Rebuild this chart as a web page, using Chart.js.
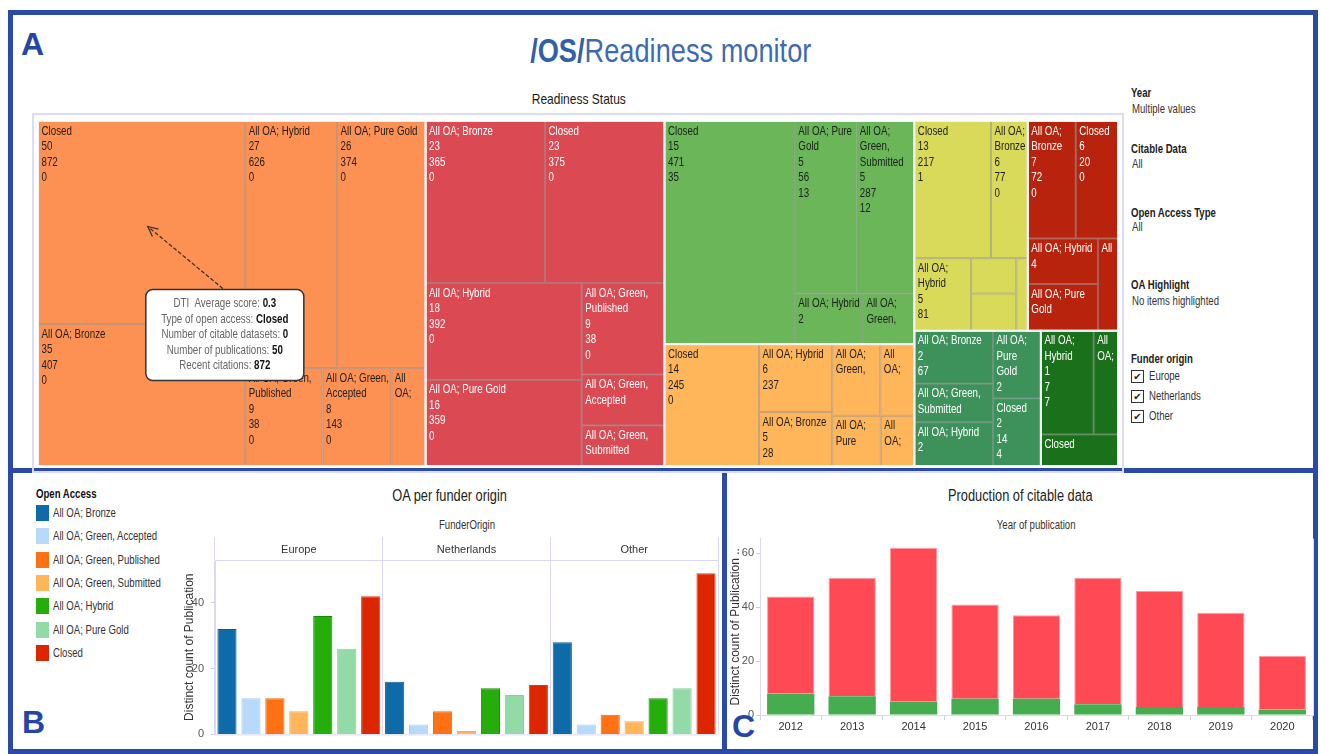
<!DOCTYPE html>
<html>
<head>
<meta charset="utf-8">
<script src="https://cdn.jsdelivr.net/npm/chart.js@4.4.1/dist/chart.umd.min.js"></script>
<style>
  body { margin: 0; width: 1322px; height: 754px; position: relative; overflow: hidden; background: #fff;
         font-family: 'Liberation Sans', Arial, sans-serif; color: #222; }
  .panel { position: absolute; border: 5px solid #2a4aa8; box-sizing: border-box; }
  .letter { position: absolute; font-weight: bold; font-size: 32px; color: #2546a8; }
  .txt { position: absolute; white-space: nowrap; }
  .center { text-align: center; }
  .sq { display: inline-block; transform: scaleX(0.8); transform-origin: 0 50%; white-space: nowrap; }
  .center .sq { transform-origin: 50% 50%; }
  canvas { position: absolute; }
  .flt-h { position: absolute; left: 1131px; font-weight: bold; font-size: 12px; color: #222; }
  .flt-v { position: absolute; left: 1132px; font-size: 12px; color: #333; }
  .chk { position: absolute; left: 1131px; width: 11px; height: 11px; border: 1.5px solid #333; font-size: 10px; line-height: 11px; text-align: center; font-family: 'DejaVu Sans', sans-serif; }
  .legend-item { position: absolute; left: 36px; font-size: 12px; color: #333; }
  .swatch { position: absolute; left: 0; top: 0; width: 13px; height: 16px; }
</style>
</head>
<body>

<div class="panel" style="left:8px; top:10px; width:1310px; height:463px;"></div>
<div class="panel" style="left:8px; top:468px; width:719px; height:286px;"></div>
<div class="panel" style="left:722px; top:468px; width:596px; height:286px;"></div>

<div class="letter" style="left:21px; top:26px;">A</div>
<div class="letter" style="left:22px; top:704px;">B</div>
<div class="letter" style="left:732px; top:708px;">C</div>

<div class="txt center" style="left:421px; width:500px; top:33px; font-size:34px; line-height:34px; color:#3d6bb3;"><span class="sq"><b style="color:#3260a8;">/OS/</b>Readiness monitor</span></div>
<div class="txt center" style="left:479px; width:200px; top:90px; font-size:15px; color:#1a1a1a;"><span class="sq">Readiness Status</span></div>
<div style="position:absolute; left:32px; top:113px; width:1092px; height:360px; border:2px solid #dcdcf6; box-sizing:border-box;"></div>
<canvas id="treemap" width="1080" height="345" style="left:38px; top:121px;"></canvas>

<div class="flt-h" style="top:86px;"><span class="sq">Year</span></div>
<div class="flt-v" style="top:102px;"><span class="sq">Multiple values</span></div>
<div class="flt-h" style="top:142px;"><span class="sq">Citable Data</span></div>
<div class="flt-v" style="top:157px;"><span class="sq">All</span></div>
<div class="flt-h" style="top:206px;"><span class="sq">Open Access Type</span></div>
<div class="flt-v" style="top:220px;"><span class="sq">All</span></div>
<div class="flt-h" style="top:278px;"><span class="sq">OA Highlight</span></div>
<div class="flt-v" style="top:294px;"><span class="sq">No items highlighted</span></div>
<div class="flt-h" style="top:352px;"><span class="sq">Funder origin</span></div>
<div id="funderFilter"></div>

<div class="txt" style="left:36px; top:487px; font-size:12px; font-weight:bold; color:#111;"><span class="sq">Open Access</span></div>
<div id="oaLegend"></div>
<div class="txt center" style="left:300px; width:300px; top:487px; font-size:16px; color:#222;"><span class="sq">OA per funder origin</span></div>
<div class="txt center" style="left:367px; width:200px; top:518px; font-size:12px; color:#333;"><span class="sq">FunderOrigin</span></div>
<canvas id="funderChart" width="542" height="218" style="left:178px; top:530px;"></canvas>

<div class="txt center" style="left:870px; width:300px; top:487px; font-size:16px; color:#222;"><span class="sq">Production of citable data</span></div>
<div class="txt center" style="left:936px; width:200px; top:518px; font-size:12px; color:#333;"><span class="sq">Year of publication</span></div>
<canvas id="citableChart" width="590" height="218" style="left:727px; top:530px;"></canvas>

<script>
const FONT = "'Liberation Sans', Arial, sans-serif";
const SQUASH = 0.75; // the dashboard text is set in a narrow face
Chart.defaults.font.family = FONT;
Chart.defaults.color = '#333';

// ---- Panel A: readiness treemap ----
// one entry per cell: readiness group, type of open access, publications, recent citations, citable datasets
const cellStatus = [0, 0, 0, 0, 0, 0, 0,
                    1, 1, 1, 1, 1, 1, 1,
                    2, 2, 2, 2, 2,
                    3, 3, 3, 3, 3, 3, 3,
                    4, 4, 4, 4, 4, 4,
                    5, 5, 5, 5, 5,
                    6, 6, 6, 6, 6,
                    7, 7, 7];
const cellType = [
  'Closed', 'All OA; Bronze', 'All OA; Hybrid', 'All OA; Pure Gold', 'All OA; Green, Published', 'All OA; Green, Accepted', 'All OA; Green, Submitted',
  'All OA; Bronze', 'Closed', 'All OA; Hybrid', 'All OA; Pure Gold', 'All OA; Green, Published', 'All OA; Green, Accepted', 'All OA; Green, Submitted',
  'Closed', 'All OA; Pure Gold', 'All OA; Green, Submitted', 'All OA; Hybrid', 'All OA; Green, Published',
  'Closed', 'All OA; Hybrid', 'All OA; Bronze', 'All OA; Green, Submitted', 'All OA; Green, Accepted', 'All OA; Pure Gold', 'All OA; Green, Published',
  'Closed', 'All OA; Bronze', 'All OA; Hybrid', '', '', '',
  'All OA; Bronze', 'Closed', 'All OA; Hybrid', 'All OA; Pure Gold', 'All OA; Green, Published',
  'All OA; Bronze', 'All OA; Green, Submitted', 'All OA; Hybrid', 'All OA; Pure Gold', 'Closed',
  'All OA; Hybrid', 'All OA; Bronze', 'Closed'
];
const cellPublications = [50, 35, 27, 26, 9, 8, null,
                          23, 23, 18, 16, 9, null, null,
                          15, 5, 5, 2, null,
                          14, 6, 5, null, null, null, null,
                          13, 6, 5, null, null, null,
                          7, 6, 4, null, null,
                          2, null, 2, 2, 2,
                          1, null, null];
const cellCitations = [872, 407, 626, 374, 38, 143, null,
                       365, 375, 392, 359, 38, null, null,
                       471, 56, 287, null, null,
                       245, 237, 28, null, null, null, null,
                       217, 77, 81, null, null, null,
                       72, 20, null, null, null,
                       67, null, null, 17, 14,
                       7, null, null];
const cellDatasets = [0, 0, 0, 0, 0, 0, null,
                      0, 0, 0, 0, 0, null, null,
                      35, 13, 12, null, null,
                      0, null, null, null, null, null, null,
                      1, 0, null, null, null, null,
                      0, 0, null, null, null,
                      null, null, null, null, 4,
                      7, null, null];
// size measure of each cell (area)
const cellWeight = [50, 35, 27, 26, 9, 8, 4,
                    23, 23, 18, 16, 9, 5, 4,
                    34.6, 12.6, 11.9, 4.1, 3.1,
                    13.7, 5.9, 4.7, 4.1, 2.9, 2.9, 2.0,
                    12.5, 6.0, 4.9, 1.9, 2.0, 1.0,
                    6.7, 5.9, 3.8, 3.9, 2.2,
                    4.95, 3.6, 4.1, 3.85, 3.85,
                    6.5, 3.0, 2.9];
// highlighted mark (tooltip)
const tooltipCell = 0;
const tooltipDtiScore = 0.3;

// how cells are nested: 'h' = side by side, 'v' = stacked
const treemapLayout = ['h',
  ['h', ['v', 0, 1], ['v', ['h', 2, 3], ['h', 4, 5, 6]]],
  ['v', ['h', 7, 8], ['h', ['v', 9, 10], ['v', 11, 12, 13]]],
  ['v',
    ['h', 14, ['v', ['h', 15, 16], ['h', 17, 18]]],
    ['h', 19, ['v', 20, 21], ['v', ['h', 22, 23], ['h', 24, 25]]]],
  ['v',
    ['h', ['v', ['h', 26, 27], ['h', 28, ['v', 29, 30], 31]],
          ['v', ['h', 32, 33], ['h', ['v', 34, 35], 36]]],
    ['h', ['h', ['v', 37, 38, 39], ['v', 40, 41]],
          ['v', ['h', 42, 43], 44]]]
];

const statusColors = ['#fd9153', '#db4953', '#6bb658', '#ffb559', '#d9d95a', '#b8230e', '#3d925b', '#1b711b'];
const statusText = ['#1d1d1d', '#ffffff', '#1d1d1d', '#1d1d1d', '#1d1d1d', '#ffffff', '#ffffff', '#ffffff'];

function nodeWeight(node) {
  if (typeof node === 'number') return cellWeight[node];
  return node.slice(1).reduce((s, c) => s + nodeWeight(c), 0);
}

function layoutNode(node, u0, v0, u1, v1, out) {
  if (typeof node === 'number') {
    out.push({ i: node, u0, v0, u1, v1 });
    return;
  }
  const dir = node[0];
  const total = nodeWeight(node);
  let pos = dir === 'h' ? u0 : v0;
  node.slice(1).forEach(k => {
    const span = nodeWeight(k) / total * (dir === 'h' ? u1 - u0 : v1 - v0);
    if (dir === 'h') layoutNode(k, pos, v0, pos + span, v1, out);
    else layoutNode(k, u0, pos, u1, pos + span, out);
    pos += span;
  });
}

function textW(ctx, t) {
  return ctx.measureText(t).width * SQUASH;
}

function drawText(ctx, t, x, y) {
  ctx.save();
  ctx.translate(x, y);
  ctx.scale(SQUASH, 1);
  ctx.fillText(t, 0, 0);
  ctx.restore();
}

function wrapLabel(ctx, text, maxW) {
  const words = text.split(' ').filter(Boolean);
  const lines = [];
  let cur = '';
  let cut = false;
  for (const w of words) {
    const t = cur ? cur + ' ' + w : w;
    if (textW(ctx, t) <= maxW) { cur = t; continue; }
    if (cur) lines.push(cur);
    if (textW(ctx, w) > maxW) { cur = ''; cut = true; break; }
    cur = w;
  }
  if (cur) lines.push(cur);
  return { lines, cut };
}

const treemapPlugin = {
  id: 'treemapCells',
  afterDatasetsDraw(chart) {
    const { ctx, scales: { x, y } } = chart;
    const cells = [];
    layoutNode(treemapLayout, 0, 0, 1, 1, cells);
    const rects = cells.map(c => ({
      i: c.i,
      left: x.getPixelForValue(c.u0), right: x.getPixelForValue(c.u1),
      top: y.getPixelForValue(c.v0), bottom: y.getPixelForValue(c.v1)
    }));

    ctx.save();
    // cells
    rects.forEach(r => {
      ctx.fillStyle = statusColors[cellStatus[r.i]];
      ctx.fillRect(r.left, r.top, r.right - r.left, r.bottom - r.top);
      ctx.strokeStyle = 'rgba(150,150,150,0.55)';
      ctx.lineWidth = 1;
      ctx.strokeRect(r.left + 0.5, r.top + 0.5, r.right - r.left - 1, r.bottom - r.top - 1);
    });
    // group outlines
    statusColors.forEach((col, g) => {
      const gr = rects.filter(r => cellStatus[r.i] === g);
      const l = Math.min(...gr.map(r => r.left)), t = Math.min(...gr.map(r => r.top));
      const rr = Math.max(...gr.map(r => r.right)), b = Math.max(...gr.map(r => r.bottom));
      ctx.strokeStyle = '#f2f2f6';
      ctx.lineWidth = 2;
      ctx.strokeRect(l, t, rr - l, b - t);
    });
    // labels
    ctx.font = '13px ' + FONT;
    ctx.textBaseline = 'middle';
    ctx.textAlign = 'left';
    rects.forEach(r => {
      const i = r.i;
      if (!cellType[i]) return;
      const w = r.right - r.left;
      const { lines, cut } = wrapLabel(ctx, cellType[i], w - 5);
      if (!cut) {
        for (const v of [cellPublications[i], cellCitations[i], cellDatasets[i]]) {
          if (v === null) break;
          lines.push(String(v));
        }
      }
      ctx.fillStyle = statusText[cellStatus[i]];
      lines.forEach((line, k) => {
        const cy = r.top + 10 + k * 15.5;
        if (cy + 10 > r.bottom) return;
        drawText(ctx, line, r.left + 3.5, cy);
      });
    });

    // tooltip callout for the highlighted mark
    const hr = rects.find(r => r.i === tooltipCell);
    const tipX = hr.left + 0.53 * (hr.right - hr.left);
    const tipY = hr.top + 0.52 * (hr.bottom - hr.top);
    const bx = tipX - 2, by = tipY + 63, bw = 158, bh = 91;
    ctx.strokeStyle = '#3a2a1a';
    ctx.lineWidth = 1.2;
    ctx.setLineDash([4, 2]);
    ctx.beginPath();
    ctx.moveTo(tipX + 75, tipY + 62);
    ctx.lineTo(tipX, tipY);
    ctx.stroke();
    ctx.setLineDash([]);
    const ang = Math.atan2(62, 75);
    ctx.beginPath();
    ctx.moveTo(tipX + 11 * Math.cos(ang - 0.45), tipY + 11 * Math.sin(ang - 0.45));
    ctx.lineTo(tipX, tipY);
    ctx.lineTo(tipX + 11 * Math.cos(ang + 0.45), tipY + 11 * Math.sin(ang + 0.45));
    ctx.stroke();

    ctx.fillStyle = '#ffffff';
    ctx.strokeStyle = '#333';
    ctx.lineWidth = 1.5;
    ctx.beginPath();
    ctx.roundRect(bx, by, bw, bh, 7);
    ctx.fill();
    ctx.stroke();

    const rows = [
      ['DTI  Average score: ', String(tooltipDtiScore)],
      ['Type of open access: ', cellType[tooltipCell]],
      ['Number of citable datasets: ', String(cellDatasets[tooltipCell])],
      ['Number of publications: ', String(cellPublications[tooltipCell])],
      ['Recent citations: ', String(cellCitations[tooltipCell])]
    ];
    rows.forEach((row, k) => {
      ctx.font = '13px ' + FONT;
      const w1 = textW(ctx, row[0]);
      ctx.font = 'bold 13px ' + FONT;
      const w2 = textW(ctx, row[1]);
      const sx = bx + bw / 2 - (w1 + w2) / 2;
      const cy = by + 14 + k * 15.5;
      ctx.font = '13px ' + FONT;
      ctx.fillStyle = '#666';
      drawText(ctx, row[0], sx, cy);
      ctx.font = 'bold 13px ' + FONT;
      ctx.fillStyle = '#111';
      drawText(ctx, row[1], sx + w1, cy);
    });
    ctx.restore();
  }
};

new Chart(document.getElementById('treemap'), {
  type: 'scatter',
  data: { datasets: [{ data: [] }] },
  options: {
    responsive: false,
    animation: false,
    events: [],
    layout: { padding: 0 },
    plugins: { legend: { display: false }, tooltip: { enabled: false } },
    scales: {
      x: { type: 'linear', min: 0, max: 1, display: false },
      y: { type: 'linear', min: 0, max: 1, reverse: true, display: false }
    }
  },
  plugins: [treemapPlugin]
});

// filter card
const funderOrigins = ['Europe', 'Netherlands', 'Other'];
const filterBox = document.getElementById('funderFilter');
funderOrigins.forEach((name, k) => {
  const top = 370 + k * 20;
  filterBox.insertAdjacentHTML('beforeend',
    `<div class="chk" style="top:${top}px;">&#10004;</div>` +
    `<div class="flt-v" style="left:1149px; top:${top - 1}px;"><span class="sq">${name}</span></div>`);
});

// ---- Panel B: OA per funder origin ----
const oaTypes = ['All OA; Bronze', 'All OA; Green, Accepted', 'All OA; Green, Published',
                 'All OA; Green, Submitted', 'All OA; Hybrid', 'All OA; Pure Gold', 'Closed'];
// values per funder origin (Europe, Netherlands, Other)
const bronzeCounts = [32, 16, 28];
const greenAcceptedCounts = [11, 3, 3];
const greenPublishedCounts = [11, 7, 6];
const greenSubmittedCounts = [7, 1, 4];
const hybridCounts = [36, 14, 11];
const pureGoldCounts = [26, 12, 14];
const closedCounts = [42, 15, 49];

const oaColors = ['#0f6aa8', '#b7d9fb', '#ff7214', '#ffb55a', '#25ad0c', '#92daa6', '#dc2600'];
const oaBorders = ['#0b5e95', '#a6ccf0', '#f06a10', '#f5a84e', '#168a08', '#85cf98', '#f0301a'];
const countsByType = [bronzeCounts, greenAcceptedCounts, greenPublishedCounts, greenSubmittedCounts,
                      hybridCounts, pureGoldCounts, closedCounts];

const legendBox = document.getElementById('oaLegend');
oaTypes.forEach((t, k) => {
  const top = 505 + k * 23.3;
  legendBox.insertAdjacentHTML('beforeend',
    `<div class="legend-item" style="top:${top}px; height:17px;">` +
    `<div class="swatch" style="background:${oaColors[k]};"></div>` +
    `<span class="sq" style="position:absolute; left:17px; top:1px;">${t}</span></div>`);
});

const frameLines = {
  id: 'frameLines',
  afterDraw(chart, args, opts) {
    const { ctx, chartArea: a } = chart;
    ctx.save();
    ctx.strokeStyle = '#d9d9f5';
    ctx.lineWidth = 1;
    ctx.beginPath();
    if (opts.bottom) { ctx.moveTo(a.left, a.bottom + 0.5); ctx.lineTo(a.right, a.bottom + 0.5); }
    if (opts.right) { ctx.moveTo(a.right + 0.5, a.top); ctx.lineTo(a.right + 0.5, a.bottom); }
    ctx.stroke();
    ctx.restore();
  }
};

const keepTwenties = s => { s.ticks = s.ticks.filter(t => t.value % 20 === 0); };

new Chart(document.getElementById('funderChart'), {
  type: 'bar',
  data: {
    labels: funderOrigins,
    datasets: oaTypes.map((t, k) => ({
      label: t,
      data: countsByType[k],
      backgroundColor: oaColors[k],
      borderColor: oaBorders[k],
      borderWidth: 1,
      categoryPercentage: 1,
      barPercentage: 0.8
    }))
  },
  options: {
    responsive: false,
    animation: false,
    layout: { padding: { right: 2, bottom: 11, top: 0, left: 0 } },
    plugins: { legend: { display: false }, tooltip: { enabled: false }, frameLines: { bottom: true } },
    scales: {
      x: {
        position: 'top',
        grid: { offset: true, color: '#d9d9f5', tickLength: 23, drawOnChartArea: true },
        border: { color: '#d9d9f5' },
        ticks: { padding: -20, color: '#333', font: { size: 11 } },
        afterFit: s => { s.height = 30; }
      },
      y: {
        min: 0, max: 53,
        afterBuildTicks: keepTwenties,
        ticks: { stepSize: 20, padding: 7, color: '#555', font: { size: 11 } },
        grid: { drawOnChartArea: false, tickLength: 4, color: '#cfcfe0' },
        border: { color: '#d9d9f5' },
        title: { display: true, text: 'Distinct count of Publication', color: '#333', font: { size: 12 }, padding: { top: 4, bottom: 0 } },
        afterFit: s => { s.width = 37; }
      }
    }
  },
  plugins: [frameLines]
});

// ---- Panel C: production of citable data ----
const years = ['2012', '2013', '2014', '2015', '2016', '2017', '2018', '2019', '2020'];
const withCitableData = [8, 7, 5, 6, 6, 4, 3, 3, 2];
const withoutCitableData = [36, 44, 57, 35, 31, 47, 43, 35, 20];

new Chart(document.getElementById('citableChart'), {
  type: 'bar',
  data: {
    labels: years,
    datasets: [
      { label: 'Citable data', data: withCitableData, backgroundColor: '#45ad50', borderWidth: 0,
        categoryPercentage: 0.77, barPercentage: 1 },
      { label: 'No citable data', data: withoutCitableData, backgroundColor: '#ff4a55', borderColor: '#ff9aa2',
        borderWidth: { top: 1, left: 1, right: 1, bottom: 0 }, categoryPercentage: 0.77, barPercentage: 1 }
    ]
  },
  options: {
    responsive: false,
    animation: false,
    layout: { padding: { top: 7, right: 4, bottom: 0, left: 0 } },
    plugins: { legend: { display: false }, tooltip: { enabled: false }, frameLines: { right: true } },
    scales: {
      x: {
        stacked: true,
        grid: { offset: true, drawOnChartArea: false, tickLength: 5, color: '#cfcfe6' },
        border: { color: '#d9d9f5' },
        ticks: { padding: 0, color: '#333', font: { size: 11 } },
        afterFit: s => { s.height = 33; }
      },
      y: {
        stacked: true,
        min: 0, max: 65.5,
        afterBuildTicks: keepTwenties,
        ticks: { stepSize: 20, padding: 2, color: '#555', font: { size: 11 } },
        grid: { drawOnChartArea: false, tickLength: 4, color: '#cfcfe0' },
        border: { color: '#d9d9f5' },
        title: { display: true, text: 'Distinct count of Publication ..', color: '#333', font: { size: 12 }, padding: { top: 1, bottom: 0 } },
        afterFit: s => { s.width = 33; }
      }
    }
  },
  plugins: [frameLines]
});
</script>
</body>
</html>
